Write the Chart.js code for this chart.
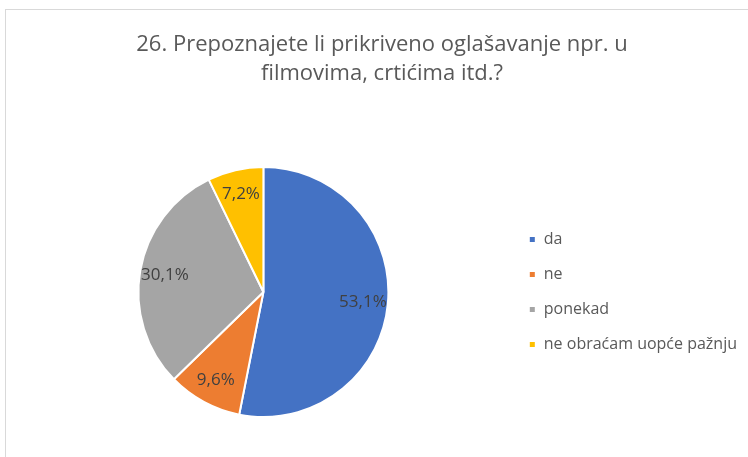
<!DOCTYPE html>
<html>
<head>
<meta charset="utf-8">
<script src="https://cdn.jsdelivr.net/npm/chart.js@4"></script>
<style>
  html, body { margin: 0; padding: 0; background: #fff; }
  #wrap { position: relative; width: 748px; height: 457px; overflow: hidden; }
  #frame { position: absolute; left: 5px; top: 9px; width: 800px; height: 500px; border: 1px solid #d9d9d9; }
  canvas { position: absolute; left: 0; top: 0; }
</style>
</head>
<body>
<div id="wrap">
  <div id="frame"></div>
  <canvas id="chart" width="748" height="457"></canvas>
</div>
<script>
'use strict';

const categories = ['da', 'ne', 'ponekad', 'ne obraćam uopće pažnju'];
const values = [53.1, 9.6, 30.1, 7.2];
const sliceColors = ['#4472C4', '#ED7D31', '#A5A5A5', '#FFC000'];
const titleLines = ['26. Prepoznajete li prikriveno oglašavanje npr. u', 'filmovima, crtićima itd.?'];

// labels inside the slices, like the Excel ones
const sliceLabels = {
    id: 'sliceLabels',
    afterDatasetsDraw(chart) {
        const c = chart.ctx;
        const meta = chart.getDatasetMeta(0);
        c.save();
        c.font = '17px "Open Sans"';
        c.fillStyle = '#404040';
        c.textAlign = 'center';
        c.textBaseline = 'middle';
        meta.data.forEach((arc, i) => {
            const p = arc.getProps(['x', 'y', 'startAngle', 'endAngle', 'outerRadius']);
            const mid = (p.startAngle + p.endAngle) / 2;
            const r = p.outerRadius * 0.8;
            c.fillText(values[i].toFixed(1).replace('.', ',') + '%', p.x + Math.cos(mid) * r, p.y + Math.sin(mid) * r);
        });
        c.restore();
    }
};

const ctx = document.getElementById('chart').getContext('2d');

var myChart = new Chart(ctx, {
    type: 'pie',
    data: {
        labels: categories,
        datasets: [{
            data: values,
            backgroundColor: sliceColors,
            borderColor: '#ffffff',
            borderWidth: 2,
            hoverOffset: 0,
            radius: 125
        }]
    },
    plugins: [sliceLabels],
    options: {
        responsive: false,
        animation: false,
        layout: {
            padding: { left: 17, right: 1, top: 0, bottom: 10 }
        },
        plugins: {
            title: {
                display: true,
                text: titleLines,
                color: '#595959',
                font: { family: 'Open Sans', size: 22, weight: 'normal', lineHeight: 1.32 },
                padding: { top: 30, bottom: 49 }
            },
            legend: {
                position: 'right',
                fullSize: false,
                labels: {
                    boxWidth: 7,
                    boxHeight: 7,
                    padding: 19,
                    color: '#595959',
                    font: { family: 'Open Sans', size: 16 }
                }
            },
            tooltip: { enabled: false }
        }
    }
});
</script>
</body>
</html>
